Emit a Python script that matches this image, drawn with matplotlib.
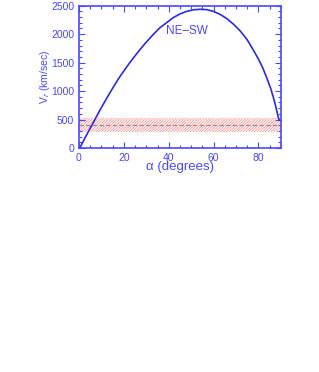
import numpy as np
import matplotlib.pyplot as plt
from matplotlib.ticker import MultipleLocator

plt.rcParams['font.family'] = ['Liberation Sans', 'DejaVu Sans']
plt.rcParams['hatch.linewidth'] = 0.6

# values
alpha = [0.5, 3, 6, 9, 12, 15, 18, 21, 24, 27, 30, 33, 36, 39, 42, 45,
         48, 51, 54, 57, 60, 63, 66, 69, 72, 75, 78, 80, 82, 84, 85.5,
         87, 88, 88.8, 89.3, 90]
vr = [10, 200, 420, 640, 850, 1050, 1240, 1410, 1570, 1720, 1860, 1990,
      2110, 2200, 2290, 2355, 2400, 2428, 2437, 2430, 2400, 2345, 2270,
      2170, 2050, 1900, 1700, 1560, 1400, 1200, 1040, 840, 680, 540, 490,
      480]

band_low = 287
band_high = 522
band_mid = 404
label_text = 'NE\u2013SW'

axis_col = '#4848ff'
line_col = '#2a2ae6'

fig = plt.figure(figsize=(3.19, 3.72), dpi=100)
ax = fig.add_axes([0.2476, 0.6022, 0.633, 0.3825])

ax.fill_between([0, 90], band_low, band_high, facecolor='none',
                edgecolor='#ff9a9a', hatch='/' * 12, linewidth=0)
ax.plot([0, 90], [band_mid, band_mid], color='#a08888', lw=0.8,
        dashes=(4, 2))
ax.plot(alpha, vr, color=line_col, lw=1.2)

ax.text(48, 2060, label_text, color=axis_col, fontsize=8.5, ha='center',
        va='center')

ax.set_xlim(0, 90)
ax.set_ylim(0, 2500)
ax.xaxis.set_major_locator(MultipleLocator(20))
ax.xaxis.set_minor_locator(MultipleLocator(5))
ax.yaxis.set_major_locator(MultipleLocator(500))
ax.yaxis.set_minor_locator(MultipleLocator(100))
ax.tick_params(which='both', direction='in', top=True, right=True,
               colors=axis_col, labelsize=7.5, width=0.8)
ax.tick_params(which='major', length=4)
ax.tick_params(which='minor', length=2)
for s in ax.spines.values():
    s.set_color(axis_col)
    s.set_linewidth(1.2)

ax.set_xlabel('\u03b1 (degrees)', color=axis_col, fontsize=9.5, labelpad=-1)
ax.set_ylabel('V$_r$ (km/sec)', color=axis_col, fontsize=7.5, labelpad=-1)

fig.savefig('out.png', dpi=100)
